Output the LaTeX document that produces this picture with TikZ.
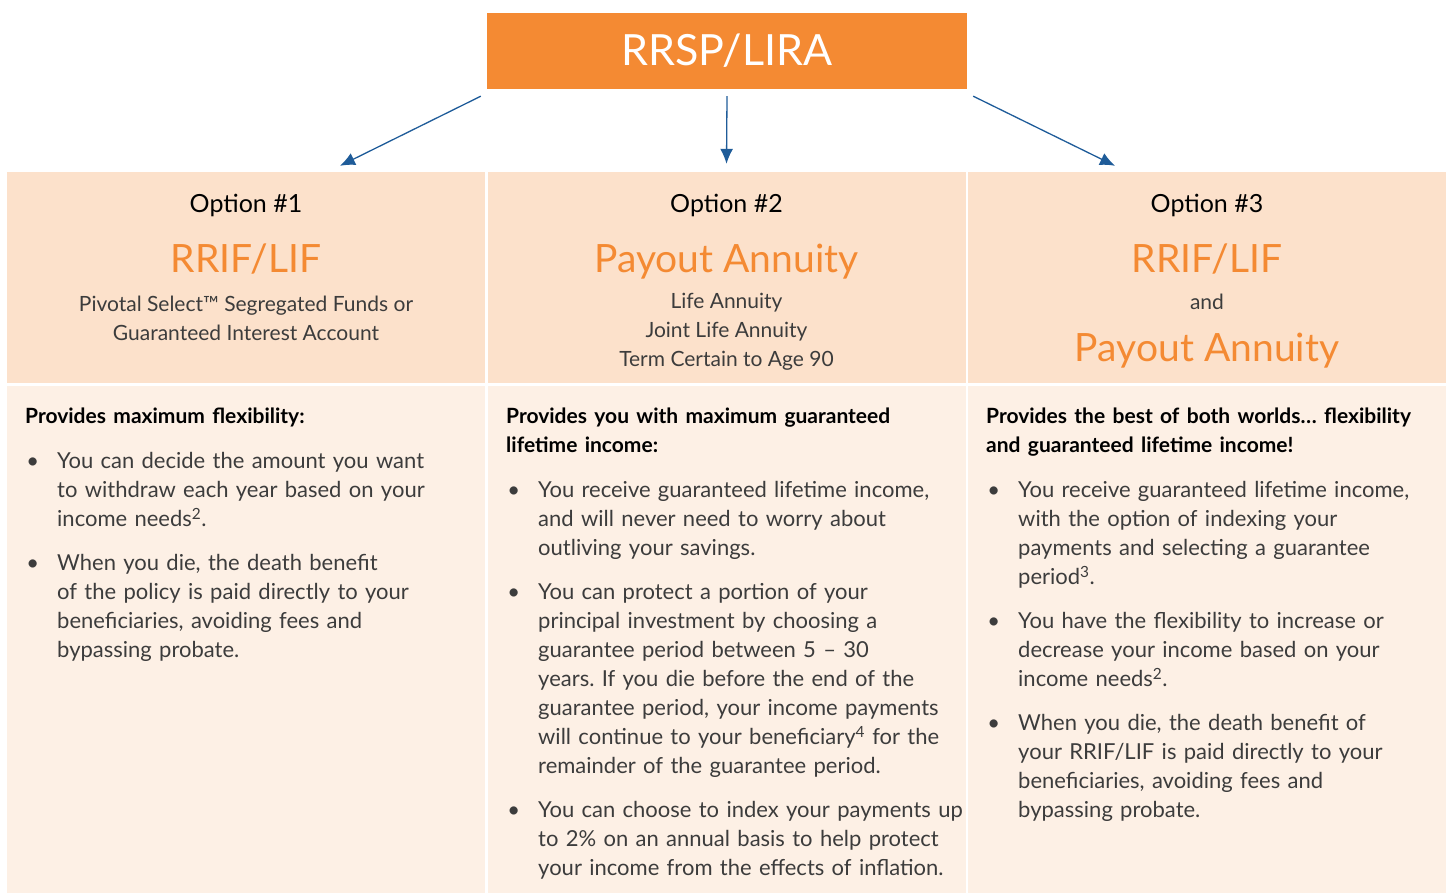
\documentclass[tikz,border=0pt]{standalone}
\usepackage{fontspec}
\setmainfont{Lato}
\usepackage{tikz}
\usetikzlibrary{arrows.meta}
\frenchspacing
\definecolor{rrorange}{HTML}{F48A33}
\definecolor{hdrfill}{HTML}{FCE1CB}
\definecolor{bodyfill}{HTML}{FDF0E5}
\definecolor{arrowblue}{HTML}{1F5C99}
\definecolor{txtgray}{HTML}{3C3C3C}
\tikzstyle{topblock} = [rectangle, fill=rrorange, text=white, 
    minimum width=480pt, minimum height=76pt, inner sep=0pt, font=\fontsize{43}{50}\selectfont]
\tikzstyle{header} = [rectangle, fill=hdrfill, minimum width=478pt, minimum height=211pt, inner sep=0pt]
\tikzstyle{body} = [rectangle, fill=bodyfill, minimum width=478pt, minimum height=507pt, inner sep=0pt]
\tikzstyle{option} = [anchor=base, inner sep=0pt, text=black, font=\fontsize{25}{30}\selectfont]
\tikzstyle{plan} = [anchor=base, inner sep=0pt, text=rrorange, font=\fontsize{39}{50}\selectfont]
\tikzstyle{detail} = [anchor=north, inner sep=0pt, align=center, text=txtgray, font=\fontsize{21}{29}\selectfont]
\tikzstyle{points} = [anchor=north west, inner sep=0pt, text width=470pt, align=left, 
    text=txtgray, font=\fontsize{22}{29}\selectfont]
\tikzstyle{line} = [draw=arrowblue, line width=1.3pt, -{Latex[length=15pt,width=13pt]}]
\newcommand{\lead}[1]{{\color{black}\fontsize{21}{29}\selectfont\bfseries #1}\par}
\newenvironment{bullets}{\begin{list}{\textbullet}{\setlength{\leftmargin}{32pt}%
    \setlength{\labelsep}{18pt}\setlength{\labelwidth}{14pt}\setlength{\itemsep}{15pt}%
    \setlength{\parsep}{0pt}\setlength{\topsep}{16pt}\setlength{\partopsep}{0pt}}}{\end{list}}

\begin{document}
\begin{tikzpicture}[x=1pt, y=-1pt]
    \useasboundingbox (0,0) rectangle (1448,893);
    % Place nodes
    \node [topblock] (top) at (727,51) {RRSP/LIRA};
    \node [header] (h1) at (246,277.5) {};
    \node [header] (h2) at (726.5,277.5) {};
    \node [header] (h3) at (1207,277.5) {};
    \node [body] (b1) at (246,639.5) {};
    \node [body] (b2) at (726.5,639.5) {};
    \node [body] (b3) at (1207,639.5) {};

    \node [option] (o1) at (246,213) {Option \#1};
    \node [option] (o2) at (726.5,213) {Option \#2};
    \node [option] (o3) at (1207,213) {Option \#3};
    \node [plan] (p1) at (246,273) {RRIF/LIF};
    \node [plan] (p2) at (726.5,273) {Payout Annuity};
    \node [plan] (p3) at (1207,273) {RRIF/LIF};
    \node [detail] (d1) at (246,296) {Pivotal Select™ Segregated Funds or\\Guaranteed Interest Account};
    \node [detail] (d2) at (726.5,293) {Life Annuity\\Joint Life Annuity\\Term Certain to Age 90};
    \node [detail, anchor=base] (d3) at (1207,309) {and};
    \node [plan] (p4) at (1207,361) {Payout Annuity};

    \node [points] (t1) at (25,408) {\lead{Provides maximum flexibility:}
      \begin{bullets}
      \item You can decide the amount you want\\to withdraw each year based on your\\income needs\textsuperscript{2}.
      \item When you die, the death benefit\\of the policy is paid directly to your\\beneficiaries, avoiding fees and\\bypassing probate.
      \end{bullets}};
    \node [points] (t2) at (506,408) {\lead{Provides you with maximum guaranteed\\lifetime income:}
      \begin{bullets}
      \item You receive guaranteed lifetime income,\\and will never need to worry about\\outliving your savings.
      \item You can protect a portion of your\\principal investment by choosing a\\guarantee period between 5 – 30\\years. If you die before the end of the\\guarantee period, your income payments\\will continue to your beneficiary\textsuperscript{4} for the\\remainder of the guarantee period.
      \item You can choose to index your payments up\\to 2\% on an annual basis to help protect\\your income from the effects of inflation.
      \end{bullets}};
    \node [points] (t3) at (986,408) {\lead{Provides the best of both worlds… flexibility\\and guaranteed lifetime income!}
      \begin{bullets}
      \item You receive guaranteed lifetime income,\\with the option of indexing your\\payments and selecting a guarantee\\period\textsuperscript{3}.
      \item You have the flexibility to increase or\\decrease your income based on your\\income needs\textsuperscript{2}.
      \item When you die, the death benefit of\\your RRIF/LIF is paid directly to your\\beneficiaries, avoiding fees and\\bypassing probate.
      \end{bullets}};

    % Draw edges
    \path [line] ([xshift=-6pt,yshift=-7pt]top.south west) -- ([xshift=94pt,yshift=6pt]h1.north);
    \path [line] ([yshift=-7pt]top.south) -- ([yshift=8pt]h2.north);
    \path [line] ([xshift=6pt,yshift=-7pt]top.south east) -- ([xshift=-92pt,yshift=6pt]h3.north);
\end{tikzpicture}
\end{document}
